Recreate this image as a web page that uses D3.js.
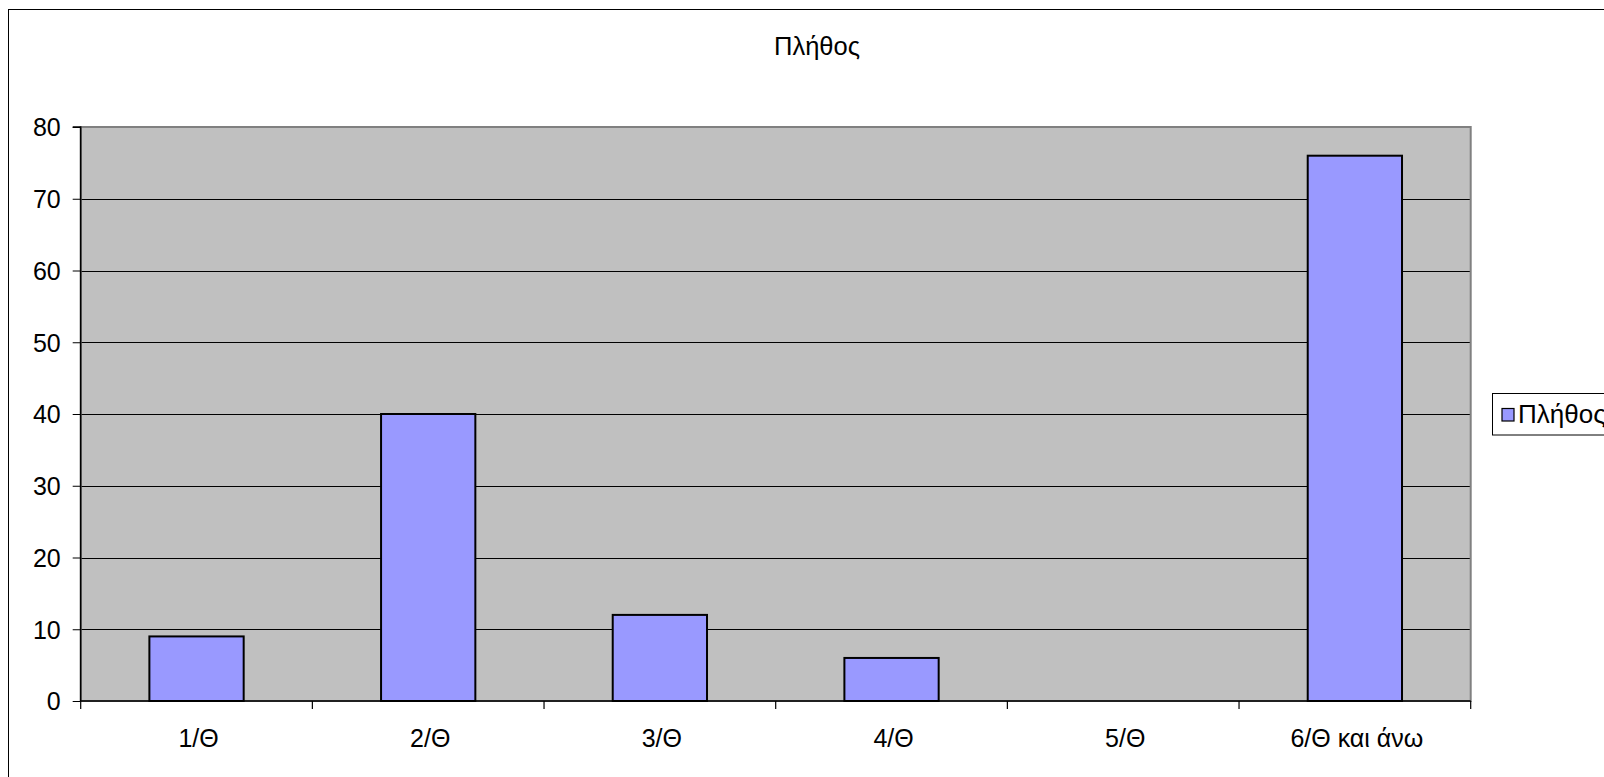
<!DOCTYPE html>
<html><head><meta charset="utf-8">
<script src="https://cdn.jsdelivr.net/npm/d3@7"></script>
<style>body{margin:0;background:#fff;overflow:hidden}svg{display:block;font-family:"Liberation Sans",Arial,sans-serif}</style>
</head><body>
<script>
const categories = ["1/Θ","2/Θ","3/Θ","4/Θ","5/Θ","6/Θ και άνω"];
const values = [9, 40, 12, 6, 0, 76];
const yTicks = [0,10,20,30,40,50,60,70,80];
const seriesName = "Πλήθος";
const titleText = "Πλήθος";

const W = 1604, H = 777;
const svg = d3.select("body").append("svg").attr("width", W).attr("height", H);

// outer chart border
svg.append("rect").attr("x", 8.5).attr("y", 9.5).attr("width", 1700).attr("height", 900)
  .attr("fill", "#fff").attr("stroke", "#000").attr("stroke-width", 1);

const L = 80.7, R = 1470.7, T = 127, B = 701;
const x = d3.scaleBand().domain(categories).range([L, R]).paddingInner(0.593).paddingOuter(0.2965);
const xb = d3.scaleBand().domain(categories).range([L, R]);
const y = d3.scaleLinear().domain([0, 80]).range([B, T]);

// plot area
svg.append("rect").attr("x", L).attr("y", T).attr("width", R - L).attr("height", B - T)
  .attr("fill", "#c0c0c0");

// gridlines
svg.append("g").selectAll("line").data(yTicks.filter(d => d > 0 && d < 80)).join("line")
  .attr("x1", L).attr("x2", R).attr("y1", d => Math.round(y(d)) + 0.5).attr("y2", d => Math.round(y(d)) + 0.5)
  .attr("stroke", "#000").attr("stroke-width", 1);

// plot border
svg.append("rect").attr("x", L).attr("y", T).attr("width", R - L).attr("height", B - T)
  .attr("fill", "none").attr("stroke", "#808080").attr("stroke-width", 2);

// bars
svg.append("g").selectAll("rect").data(categories.map((c, i) => ({c, v: values[i]}))).join("rect")
  .attr("x", d => x(d.c)).attr("width", x.bandwidth())
  .attr("y", d => y(d.v)).attr("height", d => y(0) - y(d.v))
  .attr("fill", "#9999ff").attr("stroke", "#000").attr("stroke-width", 2)
  .attr("display", d => d.v > 0 ? null : "none");

// y axis
const yAxis = d3.axisLeft(y).tickValues(yTicks).tickSize(8).tickPadding(12);
const gy = svg.append("g").attr("transform", `translate(${L},0)`).call(yAxis);
gy.select(".domain").attr("stroke", "#000").attr("stroke-width", 1.5).attr("d", `M-8,${T}H0V${B}`);
gy.selectAll(".tick line").attr("stroke", "#000");
gy.selectAll(".tick text").attr("font-size", 25).attr("fill", "#000")
  .attr("font-family", '"Liberation Sans",Arial,sans-serif').attr("dy", "0.35em");

// x axis
const gx = svg.append("g").attr("transform", `translate(0,${B})`);
gx.append("line").attr("x1", L).attr("x2", R).attr("y1", 0).attr("y2", 0).attr("stroke", "#000").attr("stroke-width", 1.5);
const edges = categories.map(c => xb(c)).concat([R]);
gx.selectAll("line.t").data(edges).join("line").attr("class", "t")
  .attr("x1", d => d).attr("x2", d => d).attr("y1", 0).attr("y2", 8).attr("stroke", "#000").attr("stroke-width", 1.2);
gx.selectAll("text").data(categories).join("text")
  .attr("x", d => xb(d) + xb.bandwidth() / 2 + 2).attr("y", 46)
  .attr("text-anchor", "middle").attr("font-size", 25).attr("fill", "#000").text(d => d);

// title
svg.append("text").attr("x", 817).attr("y", 55).attr("text-anchor", "middle")
  .attr("font-size", 25.5).attr("fill", "#000").text(titleText);

// legend
const lg = svg.append("g");
lg.append("rect").attr("x", 1492.5).attr("y", 393.5).attr("width", 200).attr("height", 41.5)
  .attr("fill", "#fff").attr("stroke", "#000").attr("stroke-width", 1);
lg.append("rect").attr("x", 1502).attr("y", 408.5).attr("width", 12).attr("height", 12.5)
  .attr("fill", "#9999ff").attr("stroke", "#000").attr("stroke-width", 1.2);
lg.append("text").attr("x", 1518).attr("y", 423).attr("font-size", 26).attr("fill", "#000").text(seriesName);
</script>
</body></html>
